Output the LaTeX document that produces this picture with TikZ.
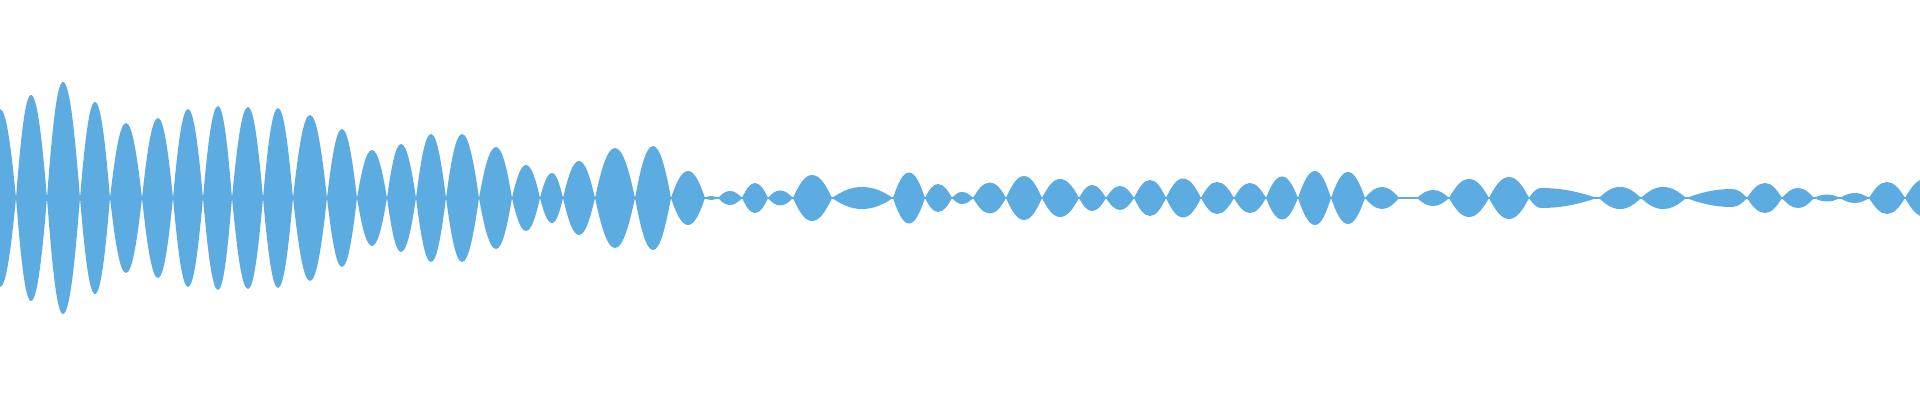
\documentclass[tikz,border=0pt]{standalone}
\usepackage{tikz}
\definecolor{wavefill}{RGB}{93,172,225}

\begin{document}
\begin{tikzpicture}[x=0.01cm,y=0.01cm]
	\tikzstyle{lobe}=[fill=wavefill, draw=none]
	\tikzstyle{baseline}=[draw=wavefill, line width=0.6pt]

	\useasboundingbox (0,0) rectangle (1920,400);
	\clip (0,0) rectangle (1920,400);
	\coordinate (L) at (0,202);
	\coordinate (R) at (1920,202);
	\draw[baseline] (L) -- (R);

	% start / peak / end / amplitude of every lobe
	\foreach \a/\m/\b/\h in {-16/0/16/89, 16/31/47/103, 47/63/80/116, 80/95/110/96,
		110/126/142/75, 142/158/173/80, 173/188/203/89, 203/218/232/92, 232/248/263/91,
		263/278/293/90, 293/310/327/83, 327/342/357/69, 357/372/387/48, 387/401/416/54,
		416/431/446/64, 446/462/479/64, 479/496/512/51, 512/526/540/33, 540/552/563/25,
		563/579/595/37, 595/615/635/50, 635/653/671/52, 671/688/705/27, 705/711/718/2,
		718/730/742/7, 742/755/768/15, 768/780/793/7.5, 793/812/832/23, 832/862/893/11,
		893/909/925/25.5, 925/938/952/14, 952/962/973/6, 973/990/1006/15.5,
		1006/1024/1042/22, 1042/1060/1079/19, 1079/1092/1106/13, 1106/1120/1134/12,
		1134/1150/1166/18, 1166/1183/1201/19.5, 1201/1217/1234/16, 1234/1250/1266/15,
		1266/1282/1298/21.5, 1298/1315/1331/27, 1331/1348/1365/26, 1365/1382/1399/11,
		1399/1408/1417/1, 1417/1433/1449/8, 1449/1469/1489/19, 1489/1509/1529/21,
		1529/1541/1597/10, 1599/1620/1641/11, 1641/1663/1686/11, 1686/1732/1747/9,
		1747/1765/1782/15, 1782/1798/1814/10, 1814/1827/1840/3.5, 1840/1855/1869/5,
		1869/1887/1905/16, 1905/1925/1945/19}
	{
		\pgfmathsetmacro{\dl}{\m-\a}
		\pgfmathsetmacro{\dr}{\b-\m}
		\fill[lobe] (\a,202)
			.. controls ({\a+0.3*\dl},{202+0.55*\h}) and ({\m-0.4*\dl},{202+\h}) .. (\m,202+\h)
			.. controls ({\m+0.4*\dr},{202+\h}) and ({\b-0.3*\dr},{202+0.55*\h}) .. (\b,202)
			.. controls ({\b-0.3*\dr},{202-0.55*\h}) and ({\m+0.4*\dr},{202-\h}) .. (\m,202-\h)
			.. controls ({\m-0.4*\dl},{202-\h}) and ({\a+0.3*\dl},{202-0.55*\h}) .. (\a,202) -- cycle;
	}
\end{tikzpicture}
\end{document}
